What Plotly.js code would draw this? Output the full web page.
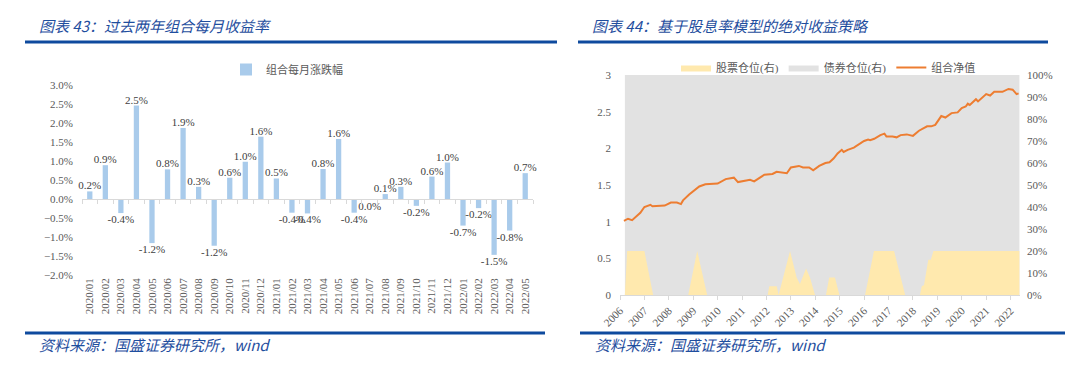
<!DOCTYPE html>
<html><head><meta charset="utf-8">
<script src="https://cdn.plot.ly/plotly-3.0.1.min.js"></script>
<style>html,body{margin:0;padding:0;background:#fff;}#chart{width:1080px;height:379px;}</style>
</head><body><div id="chart"></div>
<script>
// ---- Left chart: 组合每月涨跌幅 (%)
const months = ['2020/01','2020/02','2020/03','2020/04','2020/05','2020/06','2020/07','2020/08','2020/09','2020/10','2020/11','2020/12',
  '2021/01','2021/02','2021/03','2021/04','2021/05','2021/06','2021/07','2021/08','2021/09','2021/10','2021/11','2021/12',
  '2022/01','2022/02','2022/03','2022/04','2022/05'];
const monthlyReturn = [0.20,0.89,-0.37,2.46,-1.16,0.78,1.87,0.32,-1.23,0.56,0.98,1.64,
  0.54,-0.36,-0.38,0.79,1.58,-0.36,-0.02,0.13,0.32,-0.18,0.59,0.96,
  -0.70,-0.24,-1.47,-0.83,0.68];

// ---- Right chart
const yearLabels = ['2006','2007','2008','2009','2010','2011','2012','2013','2014','2015','2016','2017','2018','2019','2020','2021','2022'];
const navDates = ['2006-03','2006-05','2006-07','2006-09','2006-11','2007-01','2007-04','2007-05','2007-08','2007-11',
  '2008-02','2008-05','2008-07','2008-08','2008-11','2009-01','2009-04','2009-07','2009-10','2010-01',
  '2010-05','2010-09','2010-11','2011-02','2011-05','2011-07','2011-12','2012-04','2012-06','2012-11',
  '2013-01','2013-05','2013-07','2013-10','2013-12','2014-03','2014-06','2014-08','2014-10','2014-12',
  '2015-02','2015-03','2015-05','2015-08','2015-11','2016-01','2016-03','2016-04','2016-06','2016-09',
  '2016-11','2016-12','2017-03','2017-05','2017-07','2017-10','2018-01','2018-04','2018-08','2018-10',
  '2018-12','2019-03','2019-05','2019-08','2019-11','2020-01','2020-03','2020-04','2020-05','2020-08',
  '2020-09','2021-01','2021-03','2021-05','2021-09','2021-10','2021-12','2022-02','2022-04','2022-05'];
const navValues = [1.01,1.04,1.02,1.07,1.12,1.20,1.23,1.21,1.22,1.22,
  1.26,1.26,1.24,1.29,1.37,1.41,1.48,1.51,1.51,1.52,
  1.58,1.60,1.54,1.56,1.57,1.55,1.64,1.65,1.68,1.66,
  1.74,1.76,1.74,1.74,1.70,1.76,1.80,1.81,1.86,1.93,
  1.98,1.95,1.98,2.01,2.06,2.10,2.12,2.11,2.13,2.18,
  2.20,2.16,2.16,2.15,2.18,2.19,2.17,2.24,2.30,2.30,
  2.32,2.44,2.42,2.48,2.49,2.55,2.57,2.61,2.59,2.67,
  2.64,2.74,2.72,2.77,2.77,2.78,2.81,2.80,2.74,2.75];
const stockDates = ['2006-03-15','2006-04-18','2007-01-01','2007-05-12','2008-10-18','2009-03-01','2009-07-28',
  '2012-01-19','2012-02-13','2012-06-04','2012-07-01','2012-12-19','2013-03-28','2013-05-16','2013-08-16','2013-10-13','2013-12-28',
  '2014-06-10','2014-07-28','2014-10-22','2014-12-28','2016-01-16','2016-05-28','2017-03-25','2017-09-07',
  '2018-04-16','2018-05-13','2018-06-16','2018-08-19','2018-09-25','2018-11-04','2022-05-13'];
const stockPos = [0,20,20,0,0,20,0,
  0,4,4,0,20,8,5,12,8,0,
  0,8,8,0,0,20,20,0,
  0,4,4.5,16,16,20,20];
const bondDates = ['2006-03-15','2022-05-13'];
const bondPos = [100,100];

const W = 1080, H = 379;
const px = v => v / W, py = v => 1 - v / H;
const grey = '#595959';
const boundaries = months.map((_, i) => i - 0.5).concat([months.length - 0.5]);
const fmtPct = v => ((Math.round(v * 10) / 10) || 0).toFixed(1) + '%';

const traces = [
  {type:'bar', x:months, y:monthlyReturn, xaxis:'x', yaxis:'y', name:'组合每月涨跌幅',
   marker:{color:'#A9CBEB'}, text:monthlyReturn.map(fmtPct),
   textposition:'outside', constraintext:'none', cliponaxis:false,
   textfont:{family:'Liberation Serif', size:11, color:'#404040'}, legend:'legend', showlegend:true, hoverinfo:'skip'},
  {type:'scatter', x:[], y:[], xaxis:'x3', yaxis:'y', showlegend:false, hoverinfo:'skip'},
  {type:'scatter', mode:'lines', x:bondDates, y:bondPos, xaxis:'x2', yaxis:'y2', name:'债券仓位(右)',
   fill:'tozeroy', fillcolor:'#E2E2E2', line:{width:0, color:'#E2E2E2'}, legend:'legend2', legendrank:2, hoverinfo:'skip'},
  {type:'scatter', mode:'lines', x:stockDates, y:stockPos, xaxis:'x2', yaxis:'y2', name:'股票仓位(右)',
   fill:'tozeroy', fillcolor:'#FFE9AE', line:{width:0, color:'#FFE9AE'}, legend:'legend2', legendrank:1, hoverinfo:'skip'},
  {type:'scatter', mode:'lines', x:navDates, y:navValues, xaxis:'x2', yaxis:'y3', name:'组合净值',
   line:{color:'#ED7D31', width:2}, legend:'legend2', legendrank:3, hoverinfo:'skip'}
];

const titleFont = {family:'Noto Sans CJK SC', size:15, color:'#1F4E9E', style:'italic'};
const legendFont = {family:'Liberation Serif, Noto Sans CJK SC', size:11, color:grey};
const layout = {
  width:W, height:H, margin:{l:0, r:0, t:0, b:0},
  paper_bgcolor:'#fff', plot_bgcolor:'#fff', showlegend:true,
  font:{family:'Liberation Serif, Noto Sans CJK SC', size:11, color:grey},
  bargap:0.66,
  xaxis:{domain:[px(82), px(533)], anchor:'y', type:'category', tickangle:-90, ticks:'',
    showline:false, showgrid:false, zeroline:false, tickfont:{size:11, color:grey}},
  xaxis3:{overlaying:'x', anchor:'free', position:py(199), range:[-0.5, months.length - 0.5],
    tickvals:boundaries, ticks:'outside', ticklen:4, tickcolor:'#D9D9D9', showline:true, linecolor:'#D9D9D9',
    showticklabels:false, showgrid:false, zeroline:false},
  yaxis:{domain:[py(275), py(85)], anchor:'x', range:[-2, 3], dtick:0.5, tickformat:'.1f', ticksuffix:'%',
    showgrid:false, zeroline:false, showline:false, ticks:'', ticklabelstandoff:8, tickfont:{size:11, color:grey}},
  xaxis2:{domain:[px(620), px(1020)], anchor:'y2', type:'date', range:['2006-01-01','2022-05-22'],
    tickvals:yearLabels.map(y => y + '-01-01'), ticktext:yearLabels, tickangle:-45,
    ticks:'outside', ticklen:4, tickcolor:'#D9D9D9', showline:true, linecolor:'#D9D9D9',
    showgrid:false, zeroline:false, tickfont:{size:11, color:grey}},
  yaxis2:{domain:[py(295), py(75)], anchor:'x2', side:'right', range:[0, 100], dtick:10, ticksuffix:'%',
    showgrid:false, zeroline:false, showline:false, ticks:'', ticklabelstandoff:6, tickfont:{size:11, color:grey}},
  yaxis3:{overlaying:'y2', anchor:'x2', side:'left', range:[0, 3], dtick:0.5,
    showgrid:false, zeroline:false, showline:false, ticks:'', ticklabelstandoff:8, tickfont:{size:11, color:grey}},
  legend:{x:px(226), y:py(55), xanchor:'left', yanchor:'top', orientation:'h', itemwidth:30,
    bgcolor:'rgba(0,0,0,0)', font:legendFont},
  legend2:{x:px(676), y:py(53), xanchor:'left', yanchor:'top', orientation:'h', bgcolor:'rgba(0,0,0,0)',
    traceorder:'normal', font:legendFont},
  annotations:[
    {xref:'paper', yref:'paper', x:px(37), y:py(25), xanchor:'left', yanchor:'middle', showarrow:false,
     text:'图表 43：过去两年组合每月收益率', font:titleFont},
    {xref:'paper', yref:'paper', x:px(590), y:py(25), xanchor:'left', yanchor:'middle', showarrow:false,
     text:'图表 44：基于股息率模型的绝对收益策略', font:titleFont},
    {xref:'paper', yref:'paper', x:px(37), y:py(344), xanchor:'left', yanchor:'middle', showarrow:false,
     text:'资料来源：国盛证券研究所，wind', font:titleFont},
    {xref:'paper', yref:'paper', x:px(593), y:py(344), xanchor:'left', yanchor:'middle', showarrow:false,
     text:'资料来源：国盛证券研究所，wind', font:titleFont}
  ],
  shapes:[
    {type:'line', xref:'paper', yref:'paper', x0:px(25), x1:px(557), y0:py(42), y1:py(42), line:{color:'#0E4A9E', width:3}},
    {type:'line', xref:'paper', yref:'paper', x0:px(578), x1:px(1048), y0:py(42), y1:py(42), line:{color:'#0E4A9E', width:3}},
    {type:'line', xref:'paper', yref:'paper', x0:px(25), x1:px(545), y0:py(333), y1:py(333), line:{color:'#0E4A9E', width:3}},
    {type:'line', xref:'paper', yref:'paper', x0:px(580), x1:px(1065), y0:py(333), y1:py(333), line:{color:'#0E4A9E', width:3}}
  ]
};
Plotly.newPlot('chart', traces, layout, {staticPlot:true, displayModeBar:false});
</script></body></html>
